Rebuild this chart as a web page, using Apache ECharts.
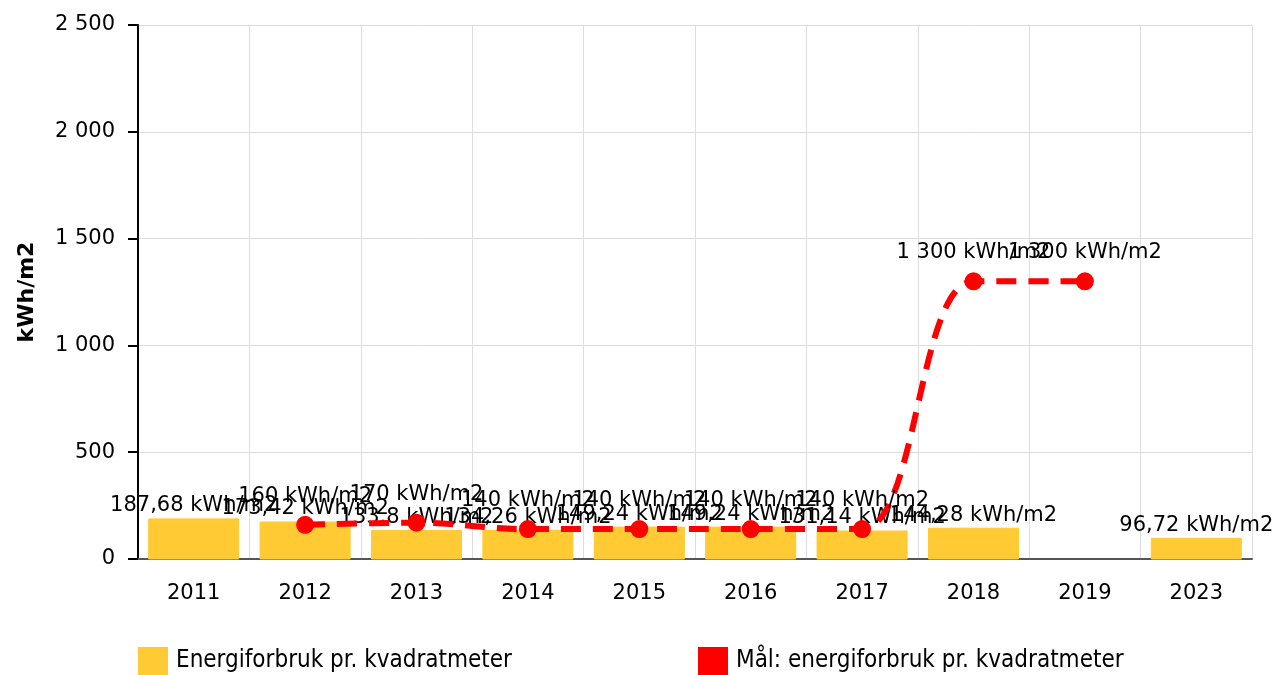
<!DOCTYPE html>
<html>
<head>
<meta charset="utf-8">
<script src="https://cdn.jsdelivr.net/npm/echarts@6/dist/echarts.min.js"></script>
<style>
  html, body { margin: 0; padding: 0; background: #fff; }
  #chart { width: 1279px; height: 675px; }
</style>
</head>
<body>
<div id="chart"></div>
<script>
// år
var years = ['2011', '2012', '2013', '2014', '2015', '2016', '2017', '2018', '2019', '2023'];
// energiforbruk pr. kvadratmeter
var forbruk = [187.68, 173.42, 133.8, 134.26, 149.24, 149.24, 131.14, 144.28, null, 96.72];
// mål
var maal = [null, 160, 170, 140, 140, 140, 140, 1300, 1300, null];
var yTicks = [0, 500, 1000, 1500, 2000, 2500];

function fmt(v) {
  var parts = String(v).split('.');
  var int = parts[0].replace(/\B(?=(\d{3})+(?!\d))/g, ' ');
  return parts.length > 1 ? int + ',' + parts[1] : int;
}

var chart = echarts.init(document.getElementById('chart'));
var font = 'DejaVu Sans, Verdana, sans-serif';
var legendText = { fontSize: 24, color: '#000', padding: [0, 0, 0, 3], fontFamily: 'DejaVu Sans Condensed, ' + font };

chart.setOption({
  animation: false,
  textStyle: { fontFamily: font },
  grid: { left: 138, right: 27, top: 25, bottom: 116 },
  legend: [{
    left: 138, top: 647, padding: 0,
    itemWidth: 30, itemHeight: 28, itemGap: 0,
    icon: 'rect',
    textStyle: legendText,
    data: ['Energiforbruk pr. kvadratmeter']
  }, {
    left: 698, top: 647, padding: 0,
    itemWidth: 30, itemHeight: 28, itemGap: 0,
    icon: 'rect',
    textStyle: legendText,
    data: ['Mål: energiforbruk pr. kvadratmeter']
  }],
  xAxis: {
    type: 'category',
    data: years,
    axisLine: { lineStyle: { color: '#555', width: 2 } },
    axisTick: { alignWithLabel: true, length: 10, lineStyle: { color: '#bbb', width: 2 } },
    axisLabel: { fontSize: 21, color: '#000', margin: 24 },
    splitLine: { show: true, lineStyle: { color: '#ddd', width: 1 } }
  },
  yAxis: {
    type: 'value',
    min: 0, max: yTicks[yTicks.length - 1], interval: 500,
    name: 'kWh/m2',
    nameLocation: 'middle',
    nameGap: 100,
    nameTextStyle: { fontSize: 22, fontWeight: 'bold', color: '#000' },
    axisLine: { show: true, lineStyle: { color: '#000', width: 2 } },
    axisTick: { show: true, length: 10, lineStyle: { color: '#000', width: 2 } },
    axisLabel: { fontSize: 21, color: '#000', margin: 23, formatter: fmt },
    splitLine: { lineStyle: { color: '#ddd', width: 1 } }
  },
  series: [{
    name: 'Energiforbruk pr. kvadratmeter',
    type: 'bar',
    data: forbruk,
    barWidth: 90,
    itemStyle: { color: '#FFCA33', borderColor: '#FFCA33' },
    label: {
      show: true, position: 'top', distance: 2,
      fontSize: 21, color: '#000',
      formatter: function (p) { return fmt(p.value) + ' kWh/m2'; }
    },
    z: 2
  }, {
    name: 'Mål: energiforbruk pr. kvadratmeter',
    type: 'line',
    data: maal,
    smooth: 0.35,
    connectNulls: false,
    symbol: 'circle',
    symbolSize: 18,
    itemStyle: { color: '#FF0000' },
    lineStyle: { color: '#FF0000', width: 6, type: [20, 12] },
    label: {
      show: true, position: 'top', distance: 9,
      fontSize: 21, color: '#000',
      formatter: function (p) { return fmt(p.value) + ' kWh/m2'; }
    },
    z: 3
  }]
});
</script>
</body>
</html>
